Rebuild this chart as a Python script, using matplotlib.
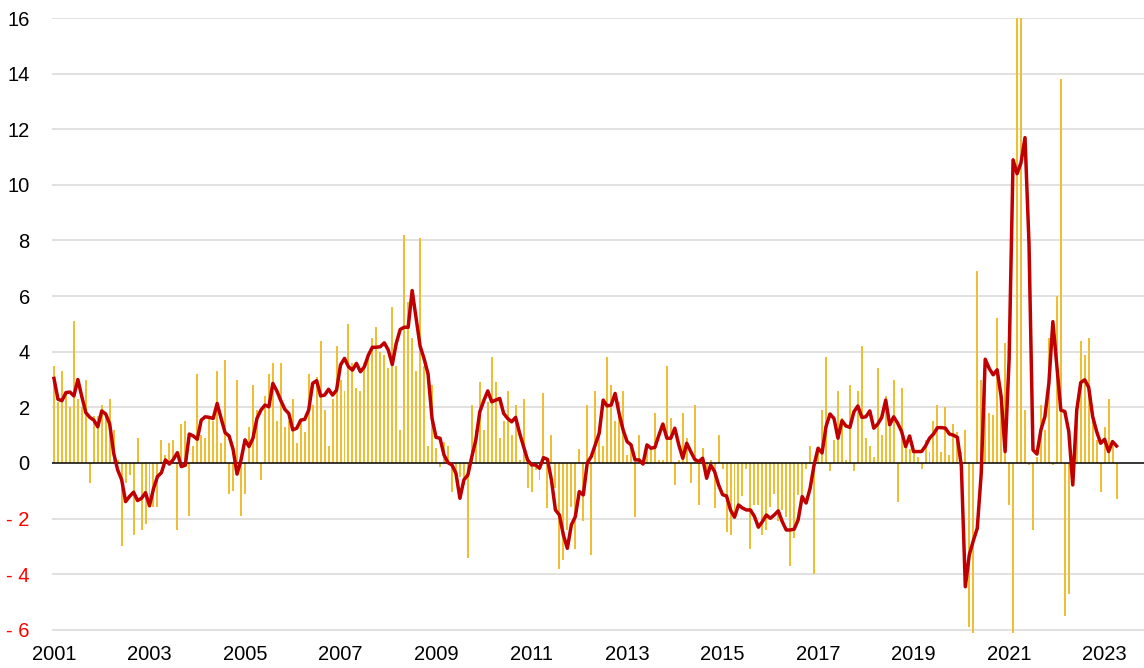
import numpy as np
import matplotlib.pyplot as plt
from matplotlib import font_manager

# monthly change (bars), Jan..Dec per row, Jan 2001 .. Apr 2023
monthly = [
    3.5, 2.2, 3.3, 2.5, 2.0, 5.1, 2.3, 2.0, 3.0, -0.73, 1.7, 1.7,        # 2001
    2.1, 1.7, 2.3, 1.2, 0.1, -3.0, -0.73, -0.43, -2.6, 0.9, -2.4, -2.2,  # 2002
    -1.6, -1.6, -1.6, 0.83, 0.3, 0.7, 0.83, -2.4, 1.4, 1.5, -1.9, 0.6,   # 2003
    3.2, 1.0, 0.9, 1.6, 1.5, 3.3, 0.73, 3.7, -1.1, -1.0, 3.0, -1.9,      # 2004
    -1.1, 1.3, 2.8, 1.9, -0.6, 2.4, 3.2, 3.6, 1.5, 3.6, 1.3, 1.5,        # 2005
    2.3, 0.7, 1.5, 1.1, 3.2, 2.1, 3.1, 4.4, 1.9, 0.6, 2.3, 4.2,          # 2006
    3.0, 2.6, 5.0, 3.6, 2.7, 2.6, 3.6, 3.8, 4.5, 4.9, 4.0, 3.9,          # 2007
    3.4, 5.6, 3.5, 1.2, 8.2, 5.8, 4.5, 3.3, 8.1, 3.5, 0.6, 2.8,          # 2008
    0.53, -0.13, 0.77, 0.6, -1.03, -0.55, -0.5, -0.8, -3.4, 2.1, 1.2, 2.9,  # 2009
    1.2, 2.2, 3.8, 2.9, 0.9, 1.5, 2.6, 1.0, 2.1, 0.1, 2.3, -0.9,         # 2010
    -1.03, -0.25, -0.6, 2.5, -1.63, 1.0, -0.9, -3.82, -3.5, -2.4, -1.6, -3.1,  # 2011
    0.5, -2.1, 2.1, -3.3, 2.6, 1.2, 0.6, 3.8, 2.8, 1.5, 2.2, 2.6,        # 2012
    0.3, 0.7, -1.93, 1.0, 0.1, 0.6, 0.5, 1.8, 0.1, 0.1, 3.5, 1.6,        # 2013
    -0.8, 0.1, 1.8, 0.9, -0.73, 2.1, -1.5, 0.53, -0.5, 0.1, -1.63, 1.0,  # 2014
    -0.2, -2.5, -2.6, -1.75, -1.5, -1.2, -0.2, -3.1, -1.5, -1.5, -2.6, -2.4,  # 2015
    -1.6, -1.1, -2.1, -1.7, -1.93, -3.7, -2.7, -1.15, -1.2, -0.2, 0.6, -4.0,  # 2016
    0.5, 1.9, 3.8, -0.3, 0.83, 2.6, 1.6, 0.1, 2.8, -0.3, 2.6, 4.2,       # 2017
    0.9, 0.6, 0.23, 3.4, 1.0, 2.4, 1.3, 3.0, -1.4, 2.7, 0.6, 0.5,        # 2018
    0.4, 0.2, -0.2, 0.83, 0.4, 1.5, 2.1, 0.4, 2.0, 0.3, 1.4, 1.1,        # 2019
    0.4, 1.2, -5.9, -7.5, 6.9, 3.0, 2.8, 1.8, 1.73, 5.2, 2.0, 4.33,      # 2020
    -1.5, -6.5, 18.0, 17.0, 1.9, -0.07, -2.4, 0.2, 2.1, 1.2, 4.5, -0.07,  # 2021
    6.0, 13.8, -5.5, -4.7, -0.3, 2.1, 4.4, 3.9, 4.5, 1.6, 0.83, -1.03,   # 2022
    1.3, 2.3, 0.6, -1.3,                                                 # 2023
]

# smoothed rate (red line)
trend = [
    3.04, 2.29, 2.24, 2.53, 2.55, 2.41, 3.0, 2.38, 1.81, 1.64, 1.54, 1.3,
    1.87, 1.76, 1.4, 0.35, -0.25, -0.6, -1.39, -1.2, -1.05, -1.35, -1.27, -1.07,
    -1.54, -0.93, -0.49, -0.35, 0.11, -0.04, 0.13, 0.37, -0.13, -0.08, 1.04, 0.97,
    0.85, 1.54, 1.66, 1.64, 1.6, 2.14, 1.6, 1.09, 0.97, 0.49, -0.4, 0.11,
    0.83, 0.59, 0.89, 1.6, 1.9, 2.08, 2.02, 2.86, 2.59, 2.24, 1.93, 1.78,
    1.19, 1.25, 1.54, 1.57, 1.9, 2.86, 2.96, 2.41, 2.44, 2.65, 2.44, 2.62,
    3.52, 3.76, 3.46, 3.34, 3.58, 3.28, 3.46, 3.88, 4.16, 4.16, 4.18, 4.32,
    4.06, 3.54, 4.3, 4.8, 4.88, 4.88, 6.2, 5.2, 4.2, 3.75, 3.2, 1.6,
    0.92, 0.89, 0.29, 0.01, -0.07, -0.37, -1.27, -0.61, -0.43, 0.23, 0.83, 1.84,
    2.24, 2.59, 2.2, 2.26, 2.32, 1.78, 1.6, 1.48, 1.64, 1.07, 0.59, 0.11,
    -0.07, -0.07, -0.19, 0.19, 0.13, -0.61, -1.69, -1.87, -2.59, -3.07, -2.23, -1.93,
    -1.03, -1.15, 0.0, 0.23, 0.65, 1.07, 2.26, 2.05, 2.08, 2.5, 1.78, 1.19,
    0.77, 0.65, 0.11, 0.11, -0.04, 0.65, 0.53, 0.56, 1.0, 1.4, 0.89, 0.89,
    1.25, 0.65, 0.17, 0.71, 0.41, 0.13, 0.05, 0.17, -0.55, -0.07, -0.31, -0.79,
    -1.14, -1.19, -1.69, -1.95, -1.51, -1.62, -1.69, -1.69, -1.92, -2.31, -2.11, -1.87,
    -1.99, -1.87, -1.72, -2.11, -2.41, -2.41, -2.38, -2.04, -1.21, -1.44, -0.91, -0.07,
    0.53, 0.36, 1.31, 1.76, 1.6, 0.89, 1.52, 1.33, 1.28, 1.84, 2.05, 1.64,
    1.66, 1.87, 1.25, 1.4, 1.64, 2.26, 1.37, 1.66, 1.43, 1.13, 0.59, 0.97,
    0.41, 0.41, 0.41, 0.61, 0.89, 1.04, 1.27, 1.27, 1.25, 1.04, 1.0, 0.92,
    -0.1, -4.45, -3.3, -2.8, -2.35, -0.37, 3.73, 3.4, 3.17, 3.35, 2.39, 0.41,
    3.7, 10.9, 10.4, 10.8, 11.7, 7.9, 0.47, 0.32, 1.19, 1.67, 2.87, 5.08,
    3.47, 1.9, 1.85, 1.13, -0.79, 1.9, 2.89, 2.99, 2.72, 1.67, 1.13, 0.71,
    0.85, 0.41, 0.77, 0.61,
]

start_year = 2001
tick_years = list(range(2001, 2024, 2))
ytick_vals = list(range(-6, 17, 2))

names = {f.name for f in font_manager.fontManager.ttflist}
fam = 'Liberation Sans Narrow' if 'Liberation Sans Narrow' in names else 'Liberation Sans'
plt.rcParams['font.family'] = fam

W, H = 1144, 668
fig = plt.figure(figsize=(W / 100, H / 100), dpi=100)
ax = fig.add_axes([52 / W, (H - 632.6) / H, 1092 / W, 614.6 / H])

x = np.arange(len(monthly))

for v in ytick_vals:
    if v != 0:
        ax.axhline(v, color='#D9D9D9', lw=1.1, zorder=0)

ax.bar(x, monthly, width=0.5, color='#F0BE32', zorder=1)
ax.axhline(0, color='black', lw=1.1, zorder=2)
ax.plot(x, trend, color='#C00000', lw=2.5, zorder=3, solid_joinstyle='round')

ax.set_xlim(-0.5, 273.9)
ax.set_ylim(-6.1, 16)

ax.set_xticks([(y - start_year) * 12 for y in tick_years])
ax.set_xticklabels([str(y) for y in tick_years], fontsize=14.5)
ax.set_yticks(ytick_vals)
ax.set_yticklabels([str(v) if v >= 0 else '- ' + str(-v) for v in ytick_vals], fontsize=14.5)
for lab, v in zip(ax.get_yticklabels(), ytick_vals):
    lab.set_color('#FF0000' if v < 0 else 'black')

ax.tick_params(axis='both', length=0)
ax.tick_params(axis='y', pad=16)
ax.tick_params(axis='x', pad=9)
for s in ax.spines.values():
    s.set_visible(False)

fig.savefig('out.png', dpi=100)
